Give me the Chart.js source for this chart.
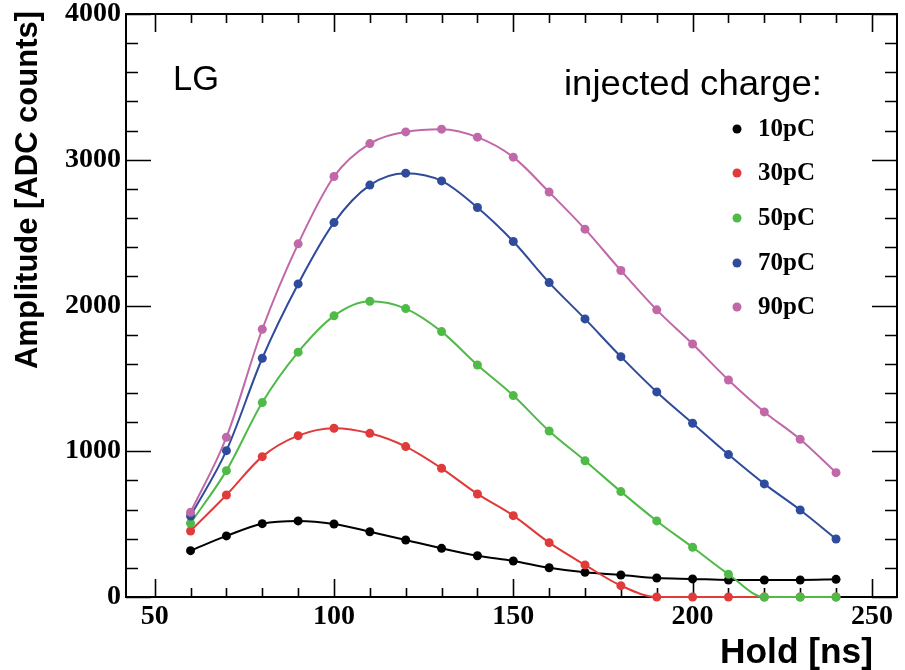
<!DOCTYPE html>
<html>
<head>
<meta charset="utf-8">
<script src="https://cdn.jsdelivr.net/npm/chart.js@4/dist/chart.umd.min.js"></script>
<style>
html,body{margin:0;padding:0;background:#fff;}
#c{display:block;}
</style>
</head>
<body>
<canvas id="c" width="905" height="670"></canvas>
<script>
// ---- data ----
const holdNs = [60,70,80,90,100,110,120,130,140,150,160,170,180,190,200,210,220,230,240];
const q10pC = [318,419,503,522,501,448,391,334,283,247,201,169,151,130,124,117,117,117,121];
const q30pC = [453,700,963,1107,1158,1123,1032,883,707,558,373,220,78,0,0,0,0,0,0];
const q50pC = [506,867,1334,1680,1929,2029,1979,1821,1592,1382,1139,935,723,522,341,156,0,0,0];
const q70pC = [556,1004,1638,2148,2569,2826,2908,2855,2672,2439,2157,1908,1649,1407,1192,977,776,597,398];
const q90pC = [581,1096,1837,2423,2885,3111,3191,3210,3155,3018,2778,2524,2240,1970,1736,1489,1270,1082,853];
const seriesLabels = ['10pC','30pC','50pC','70pC','90pC'];
const seriesColors = ['#000000','#e03a3a','#4fba47','#2f4b9b','#c068a8'];
const xTickLabels = [50,100,150,200,250];
const yTickLabels = [0,1000,2000,3000,4000];
const xTitle = 'Hold [ns]';
const yTitle = 'Amplitude [ADC counts]';
const tagText = 'LG';
const legendHeader = 'injected charge:';

const allSeries = [q10pC,q30pC,q50pC,q70pC,q90pC];
const datasets = allSeries.map((vals,i)=>({
  label: seriesLabels[i],
  data: vals.map((v,j)=>({x:holdNs[j], y:v})),
  borderColor: seriesColors[i],
  backgroundColor: seriesColors[i],
  pointBackgroundColor: seriesColors[i],
  pointBorderColor: seriesColors[i],
  pointRadius: 4.5,
  pointBorderWidth: 0,
  borderWidth: 2,
  cubicInterpolationMode: 'monotone',
  fill: false,
  clip: false,
  order: allSeries.length - i
}));

function fitText(ctx, text, x, y, font, targetW, align){
  ctx.save();
  ctx.font = font;
  const w = ctx.measureText(text).width;
  const s = targetW / w;
  ctx.translate(x, y);
  ctx.scale(s, 1);
  ctx.textAlign = align;
  ctx.textBaseline = 'alphabetic';
  ctx.fillStyle = '#000';
  ctx.fillText(text, 0, 0);
  ctx.restore();
}

const framePlugin = {
  id: 'rootFrame',
  beforeDatasetsDraw(chart){
    const ctx = chart.ctx;
    const xs = chart.scales.x, ys = chart.scales.y;
    const L = chart.chartArea.left, R = chart.chartArea.right, T = chart.chartArea.top, B = chart.chartArea.bottom;
    ctx.save();
    ctx.strokeStyle = '#000';
    ctx.lineWidth = 2;
    ctx.strokeRect(L, T, R-L, B-T);
    ctx.lineWidth = 1.6;
    ctx.beginPath();
    for (let v = 50; v <= 250; v += 10){
      const px = Math.round(xs.getPixelForValue(v)) + 0.5;
      const len = (v % 50 === 0) ? 18 : 9;
      ctx.moveTo(px, B); ctx.lineTo(px, B - len);
      ctx.moveTo(px, T); ctx.lineTo(px, T + len);
    }
    for (let v = 0; v <= 4000; v += 200){
      const py = Math.round(ys.getPixelForValue(v)) + 0.5;
      const len = (v % 1000 === 0) ? 25 : 12;
      ctx.moveTo(L, py); ctx.lineTo(L + len, py);
      ctx.moveTo(R, py); ctx.lineTo(R - len, py);
    }
    ctx.stroke();
    ctx.restore();
  },
  afterDraw(chart){
    const ctx = chart.ctx;
    ctx.save();
    const legY = [129, 173, 218, 263, 307];
    ctx.font = 'bold 25px "Liberation Serif"';
    ctx.textBaseline = 'middle';
    ctx.textAlign = 'left';
    seriesLabels.forEach((lab,i)=>{
      ctx.fillStyle = seriesColors[i];
      ctx.beginPath();
      ctx.arc(737, legY[i], 4.5, 0, Math.PI*2);
      ctx.fill();
      ctx.fillStyle = '#000';
      ctx.fillText(lab, 758, legY[i] + 1);
    });
    fitText(ctx, tagText, 173, 90, '35px "Liberation Sans"', 46, 'left');
    fitText(ctx, legendHeader, 564, 95, '35px "Liberation Sans"', 258, 'left');
    fitText(ctx, xTitle, 873, 663, 'bold 35px "Liberation Sans"', 153, 'right');
    ctx.save();
    ctx.translate(37, 11);
    ctx.rotate(-Math.PI/2);
    fitText(ctx, yTitle, 0, 0, 'bold 31px "Liberation Sans"', 358, 'right');
    ctx.restore();
    ctx.restore();
  }
};

new Chart(document.getElementById('c'), {
  type: 'line',
  data: { datasets },
  options: {
    responsive: false,
    animation: false,
    devicePixelRatio: 1,
    layout: { padding: { left: 0, right: 8, top: 14, bottom: 0 } },
    plugins: { legend: { display: false }, tooltip: { enabled: false } },
    scales: {
      x: {
        type: 'linear',
        min: 42, max: 257,
        afterBuildTicks: (s)=>{ s.ticks = xTickLabels.map(v=>({value:v})); },
        afterFit: (s)=>{ s.height = 73; s.paddingLeft = 0; s.paddingRight = 0; },
        grid: { display: false, drawTicks: false },
        border: { display: false },
        ticks: {
          autoSkip: false, maxRotation: 0, padding: 3, color: '#000',
          callback: (v)=>String(v),
          font: { family: 'Liberation Serif', weight: 'bold', size: 28 }
        }
      },
      y: {
        type: 'linear',
        min: 0, max: 4000,
        afterBuildTicks: (s)=>{ s.ticks = yTickLabels.map(v=>({value:v})); },
        afterFit: (s)=>{ s.width = 126; s.paddingTop = 0; s.paddingBottom = 0; },
        grid: { display: false, drawTicks: false },
        border: { display: false },
        ticks: {
          padding: 5, color: '#000',
          callback: (v)=>String(v),
          font: { family: 'Liberation Serif', weight: 'bold', size: 28 }
        }
      }
    }
  },
  plugins: [framePlugin]
});
</script>
</body>
</html>
